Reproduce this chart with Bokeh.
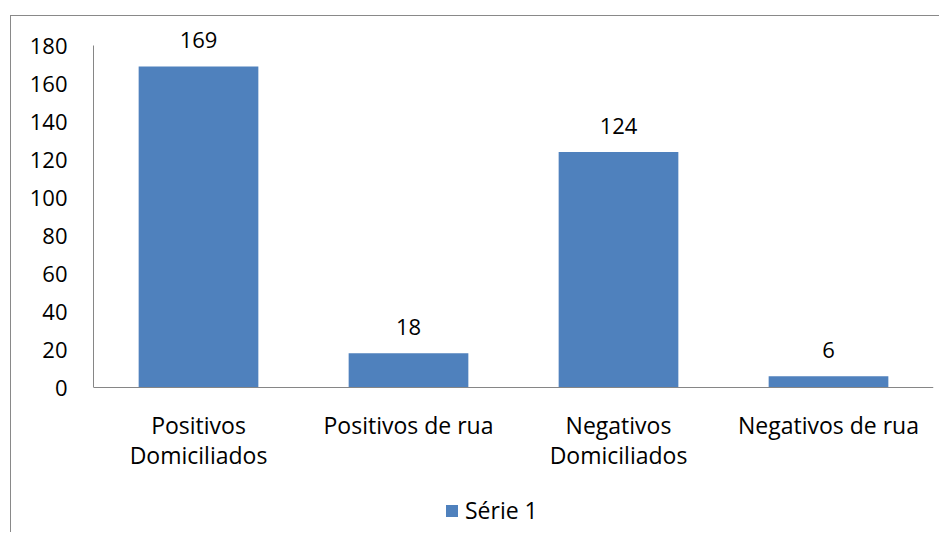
from bokeh.plotting import figure
from bokeh.models import (ColumnDataSource, FactorRange, Range1d, FixedTicker,
                          Legend, LegendItem)
from bokeh.core.properties import value
from bokeh.embed import file_html
from bokeh.resources import INLINE

# ---- data ----
categories = ["Positivos\nDomiciliados", "Positivos de rua",
              "Negativos\nDomiciliados", "Negativos de rua"]
values = [169, 18, 124, 6]
series_name = "Série 1"
y_ticks = [0, 20, 40, 60, 80, 100, 120, 140, 160, 180]

FONT = "Open Sans"
BAR = "#4F81BD"
AXIS = "#868686"

src = ColumnDataSource(dict(cat=categories, val=values,
                            lab=[str(v) for v in values]))

# frame spans the whole canvas height; x axis sits at y = 0
p = figure(frame_width=840, frame_height=516, x_range=FactorRange(*categories),
           y_range=Range1d(-76.3, 195.3), output_backend="svg",
           toolbar_location=None, tools="",
           min_border_left=82, min_border_right=6,
           min_border_top=0, min_border_bottom=0)
p.margin = (15, 0, 0, 10)
p.styles = {"border-top": "1px solid #898989",
            "border-left": "1px solid #898989"}
p.outline_line_color = None
p.background_fill_color = "white"
p.border_fill_color = "white"
p.xgrid.grid_line_color = None
p.ygrid.grid_line_color = None

bars = p.vbar(x="cat", top="val", width=0.57, source=src,
              fill_color=BAR, line_color=None)

p.text(x="cat", y="val", text="lab", source=src, text_align="center",
       text_baseline="middle", y_offset=-26, text_font=value(FONT),
       text_font_size="22px", text_color="black")

# y axis
ya = p.yaxis[0]
ya.ticker = FixedTicker(ticks=y_ticks)
ya.bounds = (0, 180)
ya.axis_line_color = AXIS
ya.major_tick_line_color = None
ya.minor_tick_line_color = None
ya.major_tick_out = 0
ya.major_tick_in = 0
ya.major_label_standoff = 26
ya.major_label_text_font = FONT
ya.major_label_text_font_size = "22px"
ya.major_label_text_color = "black"

# x axis
xa = p.xaxis[0]
xa.fixed_location = 0
xa.axis_line_color = AXIS
xa.major_tick_line_color = None
xa.minor_tick_line_color = None
xa.major_tick_out = 0
xa.major_tick_in = 0
xa.major_label_standoff = 21
xa.major_label_text_font = FONT
xa.major_label_text_font_size = "23px"
xa.major_label_text_color = "black"
xa.major_label_text_line_height = 0.95
xa.major_label_orientation = "horizontal"

legend = Legend(items=[LegendItem(label=series_name, renderers=[bars])],
                location=(351, 6), orientation="horizontal",
                padding=0, margin=0, border_line_color=None,
                background_fill_alpha=0, glyph_width=15, glyph_height=15,
                label_standoff=6, label_text_font=FONT,
                label_text_font_size="23px", label_text_color="black")
p.add_layout(legend, "center")

open("out.html", "w").write(file_html(p, INLINE))
